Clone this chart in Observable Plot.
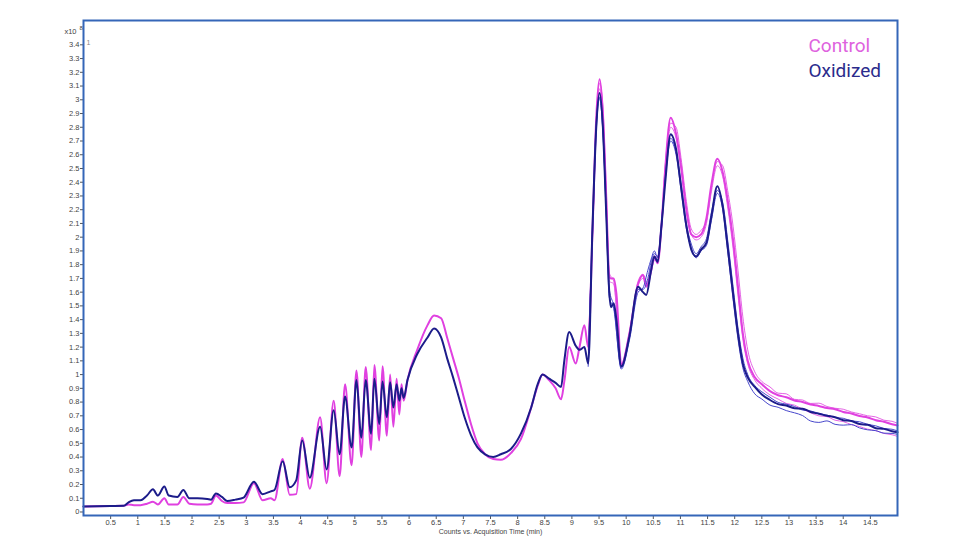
<!DOCTYPE html>
<html>
<head>
<meta charset="utf-8">
<script src="https://cdn.jsdelivr.net/npm/d3@7"></script>
<script src="https://cdn.jsdelivr.net/npm/@observablehq/plot@0.6"></script>
<style>
  html, body { margin: 0; padding: 0; background: #fff; }
  #chart { position: relative; width: 960px; height: 540px; }
</style>
</head>
<body>
<div id="chart"></div>
<script>
// Acquisition time (min)
const times = [
  0.00, 0.50, 0.74, 0.83, 0.93, 1.05, 1.17, 1.28, 1.37, 1.49,
  1.57, 1.73, 1.84, 1.95, 2.10, 2.28, 2.35, 2.44, 2.55, 2.65,
  2.80, 2.95, 3.14, 3.30, 3.45, 3.52, 3.67, 3.80, 3.92, 4.03,
  4.17, 4.36, 4.48, 4.61, 4.72, 4.82, 4.94, 5.03, 5.12, 5.20,
  5.30, 5.36, 5.45, 5.51, 5.59, 5.65, 5.71, 5.77, 5.82, 5.86,
  5.90, 5.97, 6.15, 6.34, 6.46, 6.59, 6.70, 6.81, 6.92, 7.03,
  7.14, 7.26, 7.40, 7.55, 7.69, 7.88, 8.06, 8.25, 8.37, 8.46,
  8.58, 8.70, 8.80, 8.86, 8.95, 9.07, 9.14, 9.23, 9.30, 9.38,
  9.45, 9.51, 9.57, 9.63, 9.69, 9.72, 9.77, 9.82, 9.91, 10.06,
  10.22, 10.31, 10.37, 10.46, 10.52, 10.58, 10.65, 10.72, 10.82, 10.92,
  11.01, 11.11, 11.20, 11.29, 11.38, 11.48, 11.57, 11.68, 11.78, 11.87,
  11.97, 12.06, 12.15, 12.24, 12.37, 12.50, 12.65, 12.80, 12.95, 13.10,
  13.25, 13.40, 13.55, 13.70, 13.85, 14.00, 14.15, 14.30, 14.45, 14.60,
  14.75, 14.90, 15.00
];
// Counts (x10^8), main traces
const control = [
  0.04, 0.043, 0.045, 0.055, 0.05, 0.05, 0.06, 0.075, 0.055, 0.10,
  0.055, 0.055, 0.11, 0.06, 0.055, 0.055, 0.06, 0.12, 0.08, 0.065,
  0.065, 0.07, 0.21, 0.085, 0.10, 0.085, 0.385, 0.125, 0.13, 0.54,
  0.17, 0.69, 0.21, 0.81, 0.26, 0.93, 0.34, 1.03, 0.40, 1.055,
  0.45, 1.07, 0.52, 1.06, 0.555, 1.0, 0.62, 0.97, 0.71, 0.93,
  0.81, 0.96, 1.18, 1.36, 1.43, 1.41, 1.27, 1.12, 0.97, 0.80,
  0.64, 0.50, 0.42, 0.385, 0.38, 0.43, 0.53, 0.76, 0.92, 1.0,
  0.96, 0.90, 0.82, 0.95, 1.20, 1.08, 1.20, 1.36, 1.20, 2.05,
  2.88, 3.15, 2.91, 2.32, 1.71, 1.70, 1.70, 1.59, 1.07, 1.30,
  1.66, 1.725, 1.64, 1.76, 1.86, 1.81, 2.08, 2.50, 2.87, 2.75,
  2.52, 2.20, 2.02, 2.0, 2.02, 2.14, 2.38, 2.57, 2.47, 2.27,
  1.98, 1.64, 1.30, 1.10, 0.98, 0.93, 0.88, 0.85, 0.835, 0.812,
  0.80, 0.782, 0.772, 0.757, 0.748, 0.728, 0.717, 0.698, 0.688, 0.668,
  0.657, 0.638, 0.63
];
const oxidized = [
  0.04, 0.043, 0.045, 0.07, 0.085, 0.085, 0.12, 0.165, 0.12, 0.185,
  0.12, 0.11, 0.16, 0.10, 0.10, 0.095, 0.09, 0.135, 0.11, 0.08,
  0.09, 0.105, 0.22, 0.13, 0.15, 0.16, 0.37, 0.18, 0.23, 0.52,
  0.25, 0.62, 0.31, 0.74, 0.42, 0.84, 0.47, 0.96, 0.54, 0.96,
  0.57, 0.97, 0.64, 0.95, 0.69, 0.945, 0.76, 0.93, 0.81, 0.90,
  0.83, 0.96, 1.15, 1.27, 1.335, 1.27, 1.12, 0.98, 0.83, 0.68,
  0.56, 0.47, 0.42, 0.40, 0.42, 0.46, 0.57, 0.76, 0.93, 1.0,
  0.97, 0.94, 0.91, 1.10, 1.31, 1.21, 1.18, 1.20, 1.08, 2.08,
  2.81, 3.05, 2.81, 2.20, 1.59, 1.49, 1.52, 1.40, 1.06, 1.28,
  1.64, 1.60, 1.58, 1.76, 1.86, 1.82, 2.08, 2.40, 2.75, 2.64,
  2.37, 2.08, 1.91, 1.86, 1.91, 1.96, 2.15, 2.37, 2.22, 1.93,
  1.59, 1.30, 1.08, 0.98, 0.91, 0.855, 0.815, 0.785, 0.775, 0.755,
  0.752, 0.728, 0.715, 0.70, 0.69, 0.668, 0.662, 0.64, 0.635, 0.61,
  0.605, 0.588, 0.58
];
// Replicate traces (visible where they separate from the main traces)
const repTimes = [
  9.30, 9.38, 9.45, 9.51, 9.57, 9.63, 9.69, 9.77, 9.91, 10.06,
  10.22, 10.31, 10.40, 10.46, 10.52, 10.58, 10.65, 10.72, 10.82, 10.92,
  11.01, 11.11, 11.20, 11.29, 11.38, 11.48, 11.57, 11.68, 11.78, 11.87,
  11.97, 12.06, 12.15, 12.24, 12.37, 12.50, 12.65, 12.80, 12.95, 13.10,
  13.25, 13.40, 13.55, 13.70, 13.85, 14.00, 14.15, 14.30, 14.45, 14.60,
  14.75, 14.90, 15.00
];
const controlRepA = [
  1.22, 2.00, 2.85, 3.12, 2.95, 2.38, 1.74, 1.68, 1.08, 1.31,
  1.68, 1.73, 1.66, 1.78, 1.84, 1.86, 2.10, 2.52, 2.83, 2.80,
  2.58, 2.26, 2.06, 2.02, 2.05, 2.12, 2.36, 2.55, 2.52, 2.34,
  2.08, 1.76, 1.42, 1.18, 1.02, 0.95, 0.91, 0.865, 0.86, 0.82,
  0.815, 0.79, 0.792, 0.768, 0.755, 0.748, 0.728, 0.715, 0.70, 0.692,
  0.668, 0.66, 0.645
];
const controlRepB = [
  1.18, 2.02, 2.82, 3.08, 2.88, 2.30, 1.68, 1.66, 1.06, 1.29,
  1.65, 1.70, 1.65, 1.74, 1.83, 1.83, 2.06, 2.46, 2.80, 2.72,
  2.50, 2.18, 2.02, 1.98, 2.00, 2.10, 2.33, 2.52, 2.44, 2.22,
  1.92, 1.58, 1.26, 1.08, 0.96, 0.90, 0.852, 0.822, 0.79, 0.778,
  0.748, 0.722, 0.70, 0.694, 0.668, 0.658, 0.636, 0.622, 0.603, 0.592,
  0.572, 0.562, 0.55
];
const oxidizedRepA = [
  1.10, 2.02, 2.78, 3.01, 2.78, 2.22, 1.62, 1.50, 1.05, 1.27,
  1.62, 1.62, 1.70, 1.82, 1.88, 1.86, 2.06, 2.44, 2.72, 2.62,
  2.40, 2.10, 1.95, 1.88, 1.93, 1.99, 2.18, 2.34, 2.25, 1.98,
  1.64, 1.34, 1.12, 1.00, 0.92, 0.875, 0.835, 0.798, 0.785, 0.768,
  0.742, 0.735, 0.718, 0.705, 0.688, 0.682, 0.663, 0.657, 0.638, 0.627,
  0.608, 0.602, 0.59
];
const oxidizedRepB = [
  1.06, 2.10, 2.84, 3.02, 2.76, 2.18, 1.56, 1.48, 1.04, 1.25,
  1.60, 1.63, 1.76, 1.84, 1.90, 1.85, 2.10, 2.42, 2.70, 2.60,
  2.35, 2.06, 1.92, 1.85, 1.90, 1.94, 2.12, 2.32, 2.20, 1.90,
  1.55, 1.26, 1.05, 0.95, 0.86, 0.822, 0.778, 0.762, 0.738, 0.722,
  0.702, 0.662, 0.652, 0.663, 0.638, 0.632, 0.636, 0.612, 0.598, 0.592,
  0.574, 0.572, 0.565
];
const xTicks = [0.5, 1, 1.5, 2, 2.5, 3, 3.5, 4, 4.5, 5, 5.5, 6, 6.5, 7, 7.5, 8, 8.5, 9, 9.5, 10, 10.5, 11, 11.5, 12, 12.5, 13, 13.5, 14, 14.5];
const yTicks = [0, 0.1, 0.2, 0.3, 0.4, 0.5, 0.6, 0.7, 0.8, 0.9, 1, 1.1, 1.2, 1.3, 1.4, 1.5, 1.6, 1.7, 1.8, 1.9, 2, 2.1, 2.2, 2.3, 2.4, 2.5, 2.6, 2.7, 2.8, 2.9, 3, 3.1, 3.2, 3.3, 3.4];
const legendLabels = ["Control", "Oxidized"];

function toRows(ts, vs) { return ts.map((t, i) => ({t, v: vs[i]})); }

const magenta = "#e040e0";
const magentaLight = "#e565e5";
const navy = "#1c1c8a";
const blueLight = "#4747cc";

const chart = Plot.plot({
  width: 960,
  height: 540,
  marginTop: 20,
  marginBottom: 25,
  marginLeft: 83,
  marginRight: 63,
  style: {fontFamily: "Liberation Sans, Arial, sans-serif", fontSize: "7.5px", color: "#444", background: "#fff"},
  x: {domain: [0, 15]},
  y: {domain: [-0.0255, 3.577]},
  marks: [
    Plot.axisY({ticks: yTicks, tickFormat: d => String(+d.toFixed(1)), tickSize: 3, tickPadding: 1, label: null, fontSize: 7.5, stroke: "#555"}),
    Plot.axisX({ticks: xTicks, tickFormat: d => String(d), tickSize: 4, tickPadding: 0, label: null, fontSize: 7.5, stroke: "#555"}),
    Plot.line(toRows(repTimes, controlRepB), {x: "t", y: "v", stroke: magentaLight, strokeWidth: 1, curve: "monotone-x"}),
    Plot.line(toRows(repTimes, controlRepA), {x: "t", y: "v", stroke: magentaLight, strokeWidth: 1, curve: "monotone-x"}),
    Plot.line(toRows(times, control), {x: "t", y: "v", stroke: magenta, strokeWidth: 2, curve: "monotone-x"}),
    Plot.line(toRows(repTimes, oxidizedRepA), {x: "t", y: "v", stroke: blueLight, strokeWidth: 1, curve: "monotone-x"}),
    Plot.line(toRows(repTimes, oxidizedRepB), {x: "t", y: "v", stroke: blueLight, strokeWidth: 1, curve: "monotone-x"}),
    Plot.line(toRows(times, oxidized), {x: "t", y: "v", stroke: navy, strokeWidth: 2, curve: "monotone-x"}),
    Plot.frame({stroke: "#3566b8", strokeWidth: 2}),
    Plot.text(["x10"], {frameAnchor: "top-left", dx: -7, dy: 8, textAnchor: "end", fontSize: 7.5, fill: "#444"}),
    Plot.text(["8"], {frameAnchor: "top-left", dx: -4, dy: 5, textAnchor: "start", fontSize: 6, fill: "#444"}),
    Plot.text(["1"], {frameAnchor: "top-left", dx: 3, dy: 20, textAnchor: "start", fontSize: 7, fill: "#888"}),
    Plot.text(["Counts vs. Acquisition Time (min)"], {frameAnchor: "bottom", dy: 18.5, fontSize: 7, fill: "#444"}),
    Plot.text([legendLabels[0]], {frameAnchor: "top-right", dx: -89, dy: 17.5, textAnchor: "start", fontSize: 19, fontFamily: "Roboto", fill: "#de62de"}),
    Plot.text([legendLabels[1]], {frameAnchor: "top-right", dx: -89, dy: 42.5, textAnchor: "start", fontSize: 19, fontFamily: "Roboto", fill: "#2b2b8c"})
  ]
});
document.getElementById("chart").appendChild(chart);
</script>
</body>
</html>
